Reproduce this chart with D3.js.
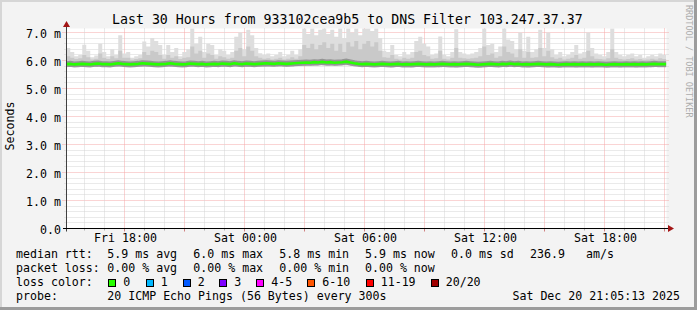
<!DOCTYPE html>
<html>
<head>
<meta charset="utf-8">
<script src="https://cdn.jsdelivr.net/npm/d3@7"></script>
<style>
  html, body { margin: 0; padding: 0; background: #f3f3f3; }
  svg { display: block; }
  text { font-family: "DejaVu Sans Mono", monospace; fill: #000; }
</style>
</head>
<body>
<svg id="chart" width="697" height="310"></svg>
<script>
// smokeping latency graph, last 30 hours, one value per 12 minutes (ms)

var startTime = new Date(2025, 11, 19, 15, 5, 13);
var endTime = new Date(2025, 11, 20, 21, 5, 13);
var binMinutes = 12;

// highest ping of the 20 in each bin
var rttMax = [
  6.45, 6.30, 6.15, 6.20, 6.56, 6.35, 6.12, 6.18, 6.60, 6.30,
  6.15, 6.40, 6.20, 6.90, 6.25, 6.30, 6.10, 6.15, 6.20, 6.68,
  6.50, 6.80, 6.70, 6.55, 6.20, 6.55, 6.30, 6.45, 6.15, 6.30,
  6.40, 7.15, 6.60, 6.85, 6.30, 6.60, 6.55, 6.20, 6.40, 6.35,
  6.20, 6.30, 6.85, 7.00, 6.40, 7.10, 6.90, 6.45, 6.26, 6.20,
  6.25, 6.15, 6.20, 6.30, 6.15, 6.20, 6.35, 6.20, 6.40, 7.15,
  6.95, 7.15, 6.90, 7.10, 7.15, 6.95, 7.10, 6.85, 7.15, 6.80,
  7.15, 7.00, 7.15, 6.90, 7.15, 7.15, 7.05, 7.15, 6.80, 6.35,
  6.30, 6.55, 6.20, 6.15, 6.30, 6.20, 6.30, 6.70, 6.85, 6.60,
  6.50, 6.20, 6.25, 6.86, 6.20, 6.15, 6.30, 7.12, 6.30, 6.25,
  6.20, 6.25, 6.30, 6.45, 7.15, 6.55, 6.60, 6.30, 6.50, 7.15,
  6.75, 6.70, 6.40, 7.00, 6.35, 6.85, 6.30, 6.40, 7.10, 6.45,
  7.00, 6.40, 6.20, 6.30, 6.15, 6.20, 6.30, 6.55, 6.25, 6.30,
  7.00, 6.45, 6.25, 6.20, 6.15, 6.30, 7.15, 6.30, 6.20, 6.15,
  6.20, 6.25, 6.15, 6.20, 6.10, 6.15, 6.20, 6.15, 6.25, 6.20
];

// upper edge of the denser part of the smoke
var rttUpper = [
  6.15, 6.10, 6.05, 6.08, 6.20, 6.12, 6.04, 6.06, 6.25, 6.10,
  6.05, 6.15, 6.08, 6.35, 6.10, 6.10, 6.03, 6.05, 6.08, 6.30,
  6.20, 6.35, 6.30, 6.20, 6.06, 6.20, 6.10, 6.15, 6.05, 6.10,
  6.12, 6.50, 6.25, 6.35, 6.10, 6.25, 6.20, 6.06, 6.15, 6.12,
  6.06, 6.10, 6.35, 6.45, 6.15, 6.50, 6.35, 6.15, 6.10, 6.06,
  6.08, 6.04, 6.06, 6.10, 6.04, 6.06, 6.12, 6.06, 6.15, 6.55,
  6.45, 6.60, 6.40, 6.55, 6.65, 6.45, 6.60, 6.35, 6.60, 6.30,
  6.65, 6.50, 6.70, 6.40, 6.60, 6.70, 6.50, 6.65, 6.35, 6.12,
  6.10, 6.20, 6.06, 6.04, 6.10, 6.06, 6.10, 6.30, 6.35, 6.20,
  6.15, 6.06, 6.08, 6.35, 6.06, 6.04, 6.10, 6.45, 6.10, 6.08,
  6.06, 6.08, 6.10, 6.15, 6.50, 6.20, 6.25, 6.10, 6.15, 6.50,
  6.30, 6.25, 6.12, 6.40, 6.10, 6.30, 6.10, 6.12, 6.45, 6.15,
  6.35, 6.12, 6.06, 6.10, 6.04, 6.06, 6.10, 6.20, 6.06, 6.10,
  6.35, 6.15, 6.06, 6.05, 6.04, 6.08, 6.40, 6.10, 6.05, 6.04,
  6.05, 6.08, 6.04, 6.05, 6.03, 6.04, 6.06, 6.04, 6.08, 6.05
];

var rttMedian = [
  5.87, 5.88, 5.86, 5.87, 5.88, 5.87, 5.86, 5.88, 5.89, 5.87,
  5.87, 5.86, 5.88, 5.90, 5.88, 5.87, 5.86, 5.87, 5.88, 5.90,
  5.89, 5.88, 5.87, 5.86, 5.87, 5.88, 5.90, 5.88, 5.87, 5.86,
  5.87, 5.89, 5.88, 5.87, 5.88, 5.86, 5.87, 5.88, 5.87, 5.89,
  5.88, 5.87, 5.90, 5.88, 5.87, 5.89, 5.88, 5.87, 5.88, 5.89,
  5.90, 5.89, 5.88, 5.90, 5.89, 5.88, 5.89, 5.90, 5.91, 5.92,
  5.93, 5.92, 5.94, 5.93, 5.95, 5.93, 5.94, 5.92, 5.93, 5.94,
  5.96, 5.93, 5.90, 5.88, 5.87, 5.88, 5.87, 5.86, 5.87, 5.88,
  5.87, 5.86, 5.87, 5.88, 5.86, 5.87, 5.86, 5.87, 5.88, 5.87,
  5.86, 5.87, 5.86, 5.87, 5.88, 5.87, 5.86, 5.87, 5.86, 5.87,
  5.88, 5.87, 5.86, 5.85, 5.86, 5.87, 5.88, 5.87, 5.86, 5.88,
  5.87, 5.89, 5.87, 5.88, 5.86, 5.87, 5.86, 5.87, 5.88, 5.87,
  5.86, 5.87, 5.86, 5.85, 5.86, 5.87, 5.86, 5.87, 5.86, 5.87,
  5.86, 5.87, 5.86, 5.87, 5.86, 5.85, 5.86, 5.87, 5.86, 5.86,
  5.87, 5.86, 5.87, 5.86, 5.87, 5.86, 5.87, 5.88, 5.87, 5.87
];

var rttMin = [
  5.78, 5.77, 5.78, 5.79, 5.77, 5.78, 5.78, 5.77, 5.79, 5.78,
  5.77, 5.78, 5.78, 5.79, 5.78, 5.77, 5.78, 5.78, 5.77, 5.79,
  5.78, 5.77, 5.78, 5.78, 5.79, 5.78, 5.77, 5.78, 5.78, 5.77,
  5.78, 5.79, 5.78, 5.77, 5.78, 5.78, 5.79, 5.77, 5.78, 5.78,
  5.77, 5.78, 5.79, 5.78, 5.78, 5.77, 5.78, 5.79, 5.78, 5.78,
  5.79, 5.78, 5.79, 5.80, 5.79, 5.78, 5.79, 5.80, 5.80, 5.81,
  5.82, 5.81, 5.82, 5.83, 5.82, 5.81, 5.82, 5.81, 5.82, 5.83,
  5.83, 5.82, 5.80, 5.79, 5.78, 5.78, 5.77, 5.77, 5.78, 5.78,
  5.77, 5.76, 5.77, 5.78, 5.77, 5.77, 5.76, 5.77, 5.78, 5.77,
  5.77, 5.78, 5.77, 5.76, 5.77, 5.78, 5.77, 5.76, 5.77, 5.77,
  5.78, 5.77, 5.76, 5.76, 5.77, 5.78, 5.77, 5.77, 5.76, 5.78,
  5.77, 5.78, 5.77, 5.78, 5.77, 5.76, 5.77, 5.78, 5.77, 5.77,
  5.76, 5.77, 5.77, 5.76, 5.77, 5.78, 5.77, 5.76, 5.77, 5.77,
  5.77, 5.76, 5.77, 5.78, 5.77, 5.76, 5.77, 5.77, 5.76, 5.77,
  5.77, 5.77, 5.76, 5.77, 5.78, 5.77, 5.76, 5.77, 5.78, 5.77
];

var yTicks = [0, 1, 2, 3, 4, 5, 6, 7];

var lossLabels = ["0", "1", "2", "3", "4-5", "6-10", "11-19", "20/20"];
var lossColors = ["#26ff00", "#00b8ff", "#0059ff", "#7e00ff", "#ff00ff", "#ff5500", "#ff0000", "#a10000"];

var statNames = ["avg", "max", "min", "now"];
var rttStats = [5.9, 6.0, 5.8, 5.9];
var rttSd = 0.0;
var rttAms = 236.9;
var lossStats = [0, 0, 0, 0];

var titleText = "Last 30 Hours from 933102cea9b5 to DNS Filter 103.247.37.37";
var probeText = "20 ICMP Echo Pings (56 Bytes) every 300s";
var stampText = "Sat Dec 20 21:05:13 2025";

var svg = d3.select("#chart");
var W = 697, H = 310;
var pLeft = 66.5, pRight = 666.5, pTop = 28.5, pBottom = 228.5;

var x = d3.scaleTime().domain([startTime, endTime]).range([66.24, 666.24]);
var y = d3.scaleLinear().domain([0, 200 / 28]).range([pBottom, pTop]);

// frame
svg.append("rect").attr("width", W).attr("height", H).attr("fill", "#f3f3f3");
svg.append("rect").attr("x", 0).attr("y", 0).attr("width", W).attr("height", 2).attr("fill", "#d6d6d6");
svg.append("rect").attr("x", 0).attr("y", 0).attr("width", 2).attr("height", H).attr("fill", "#d6d6d6");
svg.append("rect").attr("x", W - 3).attr("y", 0).attr("width", 3).attr("height", H).attr("fill", "#9c9c9c");
svg.append("rect").attr("x", 0).attr("y", H - 3).attr("width", W).attr("height", 3).attr("fill", "#9c9c9c");

// canvas
svg.append("rect")
  .attr("x", pLeft).attr("y", pTop)
  .attr("width", pRight - pLeft).attr("height", pBottom - pTop)
  .attr("fill", "#ffffff");

svg.append("defs").append("clipPath").attr("id", "plotclip")
  .append("rect")
  .attr("x", pLeft).attr("y", pTop)
  .attr("width", pRight - pLeft).attr("height", pBottom - pTop);

// grid
var gridG = svg.append("g");
var hLines = d3.range(1, 36).map(function(k) { return k / 5; });
hLines.forEach(function(v) {
  var major = Math.abs(v - Math.round(v)) < 1e-6;
  var yy = Math.round(y(v) - 0.5) + 0.5;
  gridG.append("line")
    .attr("x1", major ? 62.5 : 64.5).attr("x2", 669)
    .attr("y1", yy).attr("y2", yy)
    .attr("stroke", major ? "#f4a8a8" : "#d4d4d4")
    .attr("stroke-dasharray", "1,1");
});

var hours = d3.timeHour.range(startTime, endTime);
hours.forEach(function(h) {
  var major = h.getHours() % 3 == 0;
  var xx = Math.round(x(h) - 0.5) + 0.5;
  gridG.append("line")
    .attr("x1", xx).attr("x2", xx)
    .attr("y1", pTop).attr("y2", pBottom)
    .attr("stroke", major ? "#f4a8a8" : "#d4d4d4")
    .attr("stroke-dasharray", "1,1");
  gridG.append("line")
    .attr("x1", xx).attr("x2", xx)
    .attr("y1", pBottom).attr("y2", pBottom + (major ? 3 : 2))
    .attr("stroke", major ? "#d08080" : "#b0b0b0");
});

// smoke
var points = rttMax.map(function(v, i) {
  return {
    t: d3.timeMinute.offset(startTime, i * binMinutes),
    max: v, upper: rttUpper[i], med: rttMedian[i], min: rttMin[i]
  };
});
var last = points[points.length - 1];
var stepPoints = points.concat([{ t: endTime, max: last.max, upper: last.upper, med: last.med, min: last.min }]);

var plotG = svg.append("g").attr("clip-path", "url(#plotclip)");

plotG.append("path")
  .datum(stepPoints)
  .attr("fill", "#dedede")
  .attr("d", d3.area().curve(d3.curveStepAfter)
    .x(function(d) { return x(d.t); })
    .y0(function(d) { return y(d.min); })
    .y1(function(d) { return y(d.max); }));

plotG.append("path")
  .datum(stepPoints)
  .attr("fill", "#c9c9c9")
  .attr("d", d3.area().curve(d3.curveStepAfter)
    .x(function(d) { return x(d.t); })
    .y0(function(d) { return y(d.min); })
    .y1(function(d) { return y(d.upper); }));

var medLine = d3.line()
  .x(function(d) { return x(d.t); })
  .y(function(d) { return y(d.med); });

plotG.append("path")
  .datum(stepPoints)
  .attr("fill", "none")
  .attr("stroke", "#7d7d7d")
  .attr("stroke-opacity", 0.7)
  .attr("stroke-width", 6)
  .attr("d", medLine);

plotG.append("path")
  .datum(stepPoints)
  .attr("fill", "none")
  .attr("stroke", lossColors[0])
  .attr("stroke-width", 2.6)
  .attr("d", medLine);

// axes
svg.append("line")
  .attr("x1", pLeft).attr("x2", pLeft)
  .attr("y1", 26).attr("y2", pBottom + 3)
  .attr("stroke", "#404040");
svg.append("line")
  .attr("x1", 63).attr("x2", 670)
  .attr("y1", pBottom).attr("y2", pBottom)
  .attr("stroke", "#000");
svg.append("path")
  .attr("d", "M63,27 L70,27 L66.5,21 Z")
  .attr("fill", "#a31515");
svg.append("path")
  .attr("d", "M668,225 L668,232 L674,228.5 Z")
  .attr("fill", "#a31515");

var yAxis = svg.append("g")
  .attr("transform", "translate(" + pLeft + ",0)")
  .call(d3.axisLeft(y).tickValues(yTicks).tickSize(0).tickPadding(5.5)
    .tickFormat(function(d) { return d == 0 ? "0.0" : d3.format(".1f")(d) + " m"; }));
yAxis.select(".domain").remove();
yAxis.attr("font-family", null).attr("font-size", null);
yAxis.selectAll("text").style("font-size", "11.6px").attr("dy", "0.45em");

var xAxis = svg.append("g")
  .attr("transform", "translate(0," + pBottom + ")")
  .call(d3.axisBottom(x).ticks(d3.timeHour.every(6)).tickSize(0).tickPadding(5.3)
    .tickFormat(d3.timeFormat("%a %H:%M")));
xAxis.select(".domain").remove();
xAxis.attr("font-family", null).attr("font-size", null);
xAxis.selectAll("text").style("font-size", "11.6px").attr("dx", "0.5");

// titles
svg.append("text")
  .attr("x", 112).attr("y", 24)
  .style("font-size", "13.25px")
  .text(titleText);

svg.append("text")
  .attr("transform", "translate(14,126) rotate(-90)")
  .attr("text-anchor", "middle")
  .style("font-size", "11.6px")
  .text("Seconds");

svg.append("text")
  .attr("transform", "translate(686,5) rotate(90)")
  .style("font-size", "8.5px")
  .style("fill", "#adadad")
  .text("RRDTOOL / TOBI OETIKER");

// legend
var colX = [107.3, 193.3, 279.3, 365];
var rowY = [258, 271.5, 285.5, 299.5];
var fs = "11.6px";

function legendText(xx, yy, s) {
  return svg.append("text").attr("x", xx).attr("y", yy).style("font-size", fs).text(s);
}

legendText(16, rowY[0], "median rtt:");
rttStats.forEach(function(v, i) {
  legendText(colX[i], rowY[0], d3.format(".1f")(v) + " ms " + statNames[i]);
});
legendText(451, rowY[0], d3.format(".1f")(rttSd) + " ms sd");
legendText(530, rowY[0], d3.format(".1f")(rttAms));
legendText(586, rowY[0], "am/s");

legendText(16, rowY[1], "packet loss:");
lossStats.forEach(function(v, i) {
  legendText(colX[i], rowY[1], d3.format(".2f")(v) + " % " + statNames[i]);
});

legendText(16, rowY[2], "loss color:");
var boxX = [108.3, 145.7, 182.7, 219.3, 256.3, 307.3, 365.7, 430.7];
lossLabels.forEach(function(lab, i) {
  svg.append("rect")
    .attr("x", Math.round(boxX[i]) + 0.5).attr("y", 279.5)
    .attr("width", 7).attr("height", 7)
    .attr("fill", lossColors[i])
    .attr("stroke", "#000");
  legendText(boxX[i] + 15, rowY[2], lab);
});

legendText(16, rowY[3], "probe:");
legendText(107.3, rowY[3], probeText);
legendText(680, rowY[3], stampText).attr("text-anchor", "end");
</script>
</body>
</html>
